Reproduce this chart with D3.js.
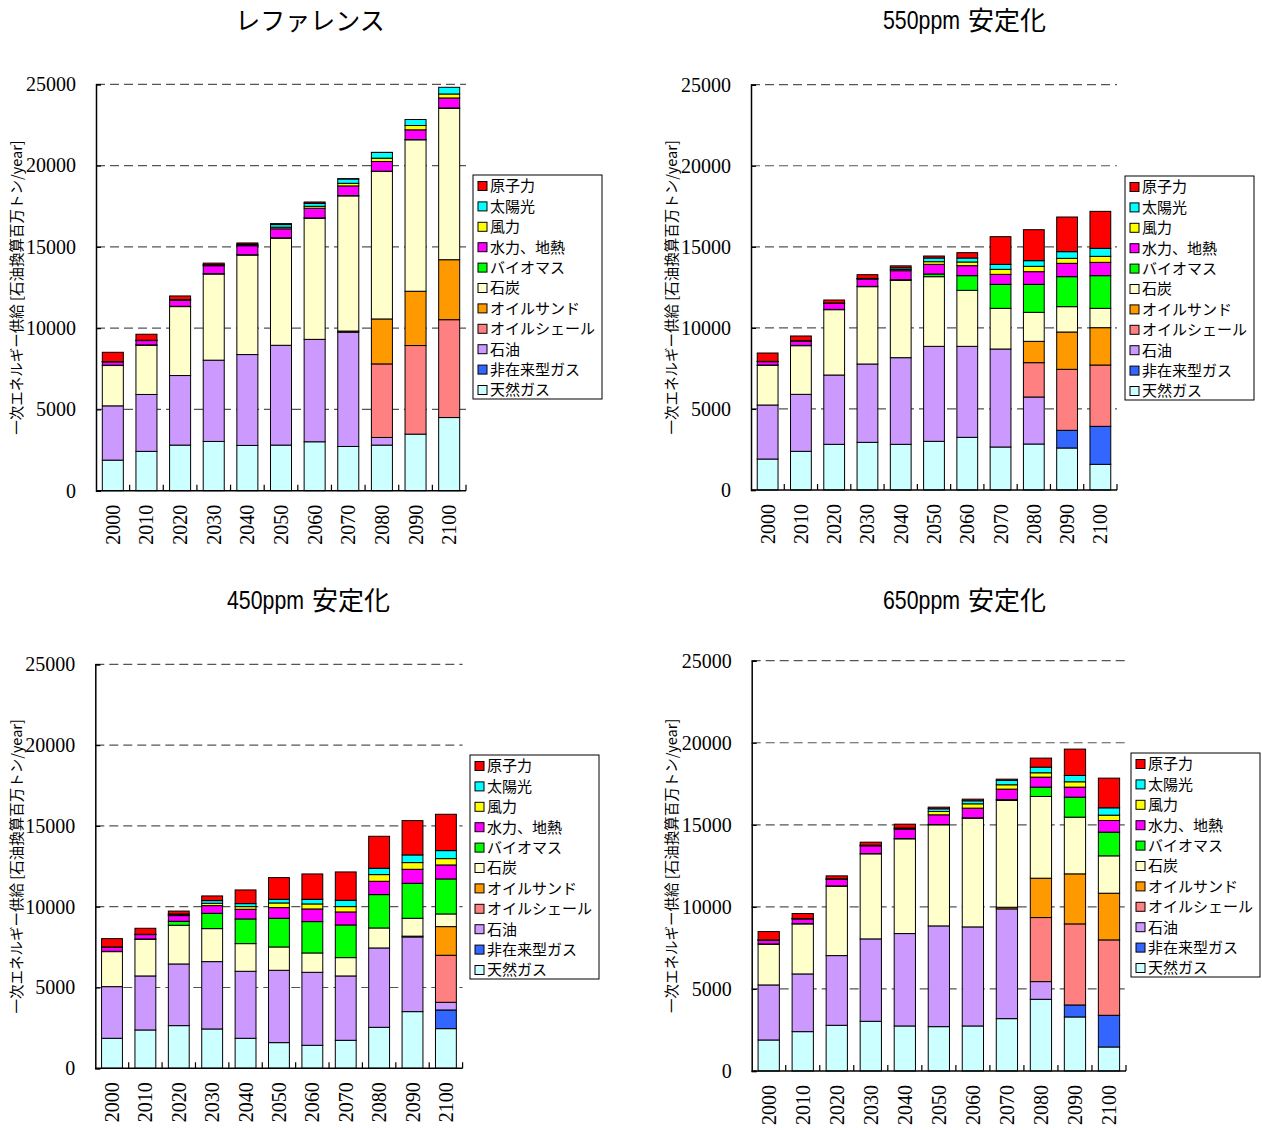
<!DOCTYPE html>
<html>
<head>
<meta charset="utf-8">
<script src="https://cdn.jsdelivr.net/npm/d3@7/dist/d3.min.js"></script>
<style>
  html, body { margin: 0; padding: 0; background: #ffffff; }
  svg { display: block; }
  .serif { font-family: "Liberation Serif", "DejaVu Serif", serif; }
  .jp { font-family: "Noto Sans CJK JP", "Noto Sans", sans-serif; }
  .latin { font-family: "Liberation Sans", Arial, sans-serif; }
</style>
</head>
<body>
<svg id="chart" width="1262" height="1130"></svg>
<script>
// Years on the category axis
const years = [2000, 2010, 2020, 2030, 2040, 2050, 2060, 2070, 2080, 2090, 2100];

// Energy sources, stacked bottom to top
const sourceNames = ["天然ガス", "非在来型ガス", "石油", "オイルシェール", "オイルサンド",
  "石炭", "バイオマス", "水力、地熱", "風力", "太陽光", "原子力"];
const sourceColors = ["#CCFFFF", "#3366FF", "#CC99FF", "#FF8080", "#FF9900",
  "#FFFFCC", "#00FF00", "#FF00FF", "#FFFF00", "#00FFFF", "#FF0000"];

const yTicks = [0, 5000, 10000, 15000, 20000, 25000];

// Primary energy supply (million tonnes of oil equivalent per year), one row per source
const referenceSupply = [
  [1880, 2420, 2805, 3030, 2785, 2805, 3010, 2720, 2805, 3480, 4500], // 天然ガス
  [0, 0, 0, 0, 0, 0, 0, 0, 0, 0, 0],                                   // 非在来型ガス
  [3340, 3500, 4280, 5000, 5590, 6140, 6300, 7030, 470, 0, 0],         // 石油
  [0, 0, 0, 0, 0, 0, 0, 0, 4525, 5450, 6020],                          // オイルシェール
  [0, 0, 0, 0, 0, 0, 0, 70, 2765, 3340, 3690],                         // オイルサンド
  [2480, 3030, 4240, 5300, 6120, 6590, 7450, 8315, 9070, 9315, 9315],  // 石炭
  [20, 20, 20, 20, 20, 20, 20, 20, 20, 20, 20],                        // バイオマス
  [205, 265, 370, 490, 555, 555, 595, 595, 595, 595, 615],             // 水力、地熱
  [10, 10, 20, 30, 30, 100, 120, 160, 205, 265, 245],                  // 風力
  [10, 10, 20, 30, 60, 160, 185, 265, 350, 370, 410],                  // 太陽光
  [570, 370, 225, 100, 80, 60, 80, 20, 10, 0, 0]                       // 原子力
];

const stab550Supply = [
  [1910, 2385, 2817, 2940, 2817, 3002, 3248, 2652, 2837, 2591, 1583],
  [0, 0, 0, 0, 0, 0, 0, 0, 0, 1090, 2344],
  [3333, 3516, 4276, 4832, 5345, 5859, 5613, 6045, 2899, 0, 0],
  [0, 0, 0, 0, 0, 0, 0, 0, 2118, 3763, 3783],
  [0, 0, 0, 0, 0, 0, 0, 0, 1316, 2302, 2303],
  [2446, 3001, 4030, 4770, 4770, 4297, 3454, 2508, 1788, 1563, 1192],
  [20, 20, 20, 20, 40, 165, 905, 1480, 1727, 1850, 2015],
  [207, 268, 371, 450, 555, 596, 617, 617, 782, 823, 822],
  [10, 10, 10, 20, 80, 165, 226, 309, 329, 308, 371],
  [10, 10, 10, 20, 100, 226, 247, 308, 349, 411, 493],
  [514, 290, 185, 230, 120, 123, 329, 1707, 1912, 2138, 2282]
];

const stab450Supply = [
  [1857, 2372, 2641, 2434, 1857, 1589, 1423, 1733, 2537, 3507, 2455],
  [0, 0, 0, 0, 0, 0, 0, 0, 0, 0, 1155],
  [3197, 3343, 3816, 4168, 4146, 4476, 4518, 3982, 4910, 4621, 475],
  [0, 0, 0, 0, 0, 0, 0, 0, 0, 0, 2909],
  [0, 0, 0, 0, 0, 0, 0, 0, 0, 50, 1774],
  [2166, 2269, 2393, 2042, 1713, 1444, 1197, 1134, 1238, 1106, 784],
  [20, 20, 248, 949, 1526, 1775, 1939, 2022, 2063, 2166, 2166],
  [249, 269, 351, 474, 599, 660, 784, 804, 825, 866, 866],
  [10, 10, 50, 145, 165, 288, 310, 331, 413, 413, 392],
  [10, 10, 50, 165, 185, 227, 288, 392, 392, 474, 495],
  [516, 372, 180, 289, 846, 1341, 1568, 1753, 1980, 2125, 2249]
];

const stab650Supply = [
  [1890, 2398, 2785, 3028, 2744, 2703, 2744, 3191, 4370, 3293, 1463],
  [0, 0, 0, 0, 0, 0, 0, 0, 0, 731, 1931],
  [3354, 3517, 4247, 5021, 5630, 6138, 6036, 6687, 1077, 0, 0],
  [0, 0, 0, 0, 0, 0, 0, 0, 3903, 4939, 4594],
  [0, 0, 0, 0, 0, 0, 0, 100, 2398, 3049, 2845],
  [2480, 3048, 4228, 5183, 5772, 6159, 6626, 6506, 4979, 3455, 2277],
  [20, 20, 20, 20, 20, 20, 20, 60, 570, 1220, 1443],
  [223, 285, 407, 467, 570, 590, 590, 631, 609, 610, 711],
  [10, 10, 10, 20, 30, 203, 264, 264, 265, 325, 325],
  [10, 10, 10, 20, 40, 163, 183, 264, 345, 386, 447],
  [509, 305, 183, 184, 234, 101, 102, 80, 549, 1606, 1809]
];

const axisTitle = "一次エネルギー供給 [石油換算百万トン/year]";

// Panel frames: plot box, title position, legend box, axis title position
const panels = [
  { title: "レファレンス", data: referenceSupply,
    left: 96, right: 466, top: 84.3, bottom: 490.7,
    titleX: 310, titleY: 30, legendX: 473, legendY: 175, axisTitleX: 17 },
  { title: "550ppm 安定化", data: stab550Supply,
    left: 751, right: 1117, top: 84.7, bottom: 490,
    titleX: 964, titleY: 30, legendX: 1125, legendY: 176, axisTitleX: 672 },
  { title: "450ppm 安定化", data: stab450Supply,
    left: 95.3, right: 462.6, top: 664.3, bottom: 1068.3,
    titleX: 308, titleY: 610, legendX: 470, legendY: 755, axisTitleX: 17 },
  { title: "650ppm 安定化", data: stab650Supply,
    left: 751.7, right: 1126, top: 660.7, bottom: 1071,
    titleX: 964, titleY: 610, legendX: 1131, legendY: 753, axisTitleX: 672 }
];

const svg = d3.select("#chart");
svg.append("rect").attr("width", 1262).attr("height", 1130).attr("fill", "#ffffff");

panels.forEach(p => {
  const g = svg.append("g");

  const x = d3.scaleBand()
    .domain(years)
    .range([p.left, p.right])
    .paddingInner(0.375)
    .paddingOuter(0.1875);

  const y = d3.scaleLinear()
    .domain([0, 25000])
    .range([p.bottom, p.top]);

  // Horizontal dashed gridlines
  g.append("g").selectAll("line")
    .data(yTicks.filter(t => t > 0))
    .join("line")
    .attr("x1", p.left).attr("x2", p.right)
    .attr("y1", d => y(d)).attr("y2", d => y(d))
    .attr("stroke", "#555555")
    .attr("stroke-width", 1.2)
    .attr("stroke-dasharray", "9,5");

  // Stacked bars
  const rows = years.map((yr, i) => {
    const r = { year: yr };
    sourceNames.forEach((s, k) => { r[s] = p.data[k][i]; });
    return r;
  });
  const stacked = d3.stack().keys(sourceNames)(rows);

  stacked.forEach((layer, k) => {
    g.append("g")
      .selectAll("rect")
      .data(layer.filter(d => d[1] - d[0] > 0))
      .join("rect")
      .attr("x", d => x(d.data.year))
      .attr("width", x.bandwidth())
      .attr("y", d => y(d[1]))
      .attr("height", d => y(d[0]) - y(d[1]))
      .attr("fill", sourceColors[k])
      .attr("stroke", "#000000")
      .attr("stroke-width", 1);
  });

  // Y axis: line, inward ticks and labels
  const yAxis = d3.axisLeft(y)
    .tickValues(yTicks)
    .tickSize(-5)
    .tickPadding(20)
    .tickFormat(d3.format("d"));
  const ya = g.append("g")
    .attr("transform", `translate(${p.left},0)`)
    .call(yAxis)
    .attr("font-family", null)
    .attr("font-size", null);
  ya.select(".domain").attr("stroke", "#000").attr("stroke-width", 1.5);
  ya.selectAll(".tick line").attr("stroke", "#000").attr("stroke-width", 1.2);
  ya.selectAll(".tick text")
    .attr("class", "serif")
    .style("font-size", "20px")
    .attr("fill", "#000");

  // X axis: baseline with inward ticks at category boundaries
  g.append("line")
    .attr("x1", p.left).attr("x2", p.right)
    .attr("y1", p.bottom).attr("y2", p.bottom)
    .attr("stroke", "#000").attr("stroke-width", 1.5);
  g.append("g").selectAll("line")
    .data(years)
    .join("line")
    .attr("x1", d => x(d) - x.paddingOuter() * x.step() + x.step())
    .attr("x2", d => x(d) - x.paddingOuter() * x.step() + x.step())
    .attr("y1", p.bottom)
    .attr("y2", p.bottom - 6)
    .attr("stroke", "#000").attr("stroke-width", 1.2);

  // Rotated year labels
  g.append("g").selectAll("text")
    .data(years)
    .join("text")
    .attr("class", "serif")
    .attr("transform", d => `translate(${x(d) + x.bandwidth() / 2},${p.bottom + 14}) rotate(-90)`)
    .attr("text-anchor", "end")
    .attr("dy", "0.35em")
    .style("font-size", "20px")
    .attr("fill", "#000")
    .text(d => d);

  // Panel title
  const m = p.title.match(/^(\S+ppm) (.*)$/);
  if (m) {
    // narrow latin part, then the kanji
    g.append("text")
      .attr("class", "latin")
      .attr("x", p.titleX - 81).attr("y", p.titleY - 1)
      .attr("textLength", 77)
      .attr("lengthAdjust", "spacingAndGlyphs")
      .style("font-size", "26px")
      .attr("fill", "#000")
      .text(m[1]);
    g.append("text")
      .attr("class", "jp")
      .attr("x", p.titleX + 4).attr("y", p.titleY)
      .style("font-size", "26px")
      .attr("fill", "#000")
      .text(m[2]);
  } else {
    g.append("text")
      .attr("class", "jp")
      .attr("x", p.titleX).attr("y", p.titleY)
      .attr("text-anchor", "middle")
      .style("font-size", "25px")
      .attr("fill", "#000")
      .text(p.title);
  }

  // Rotated axis title
  const cy = (p.top + p.bottom) / 2;
  g.append("text")
    .attr("class", "jp")
    .attr("transform", `translate(${p.axisTitleX},${cy}) rotate(-90)`)
    .attr("text-anchor", "middle")
    .attr("dy", "0.35em")
    .style("font-size", "14.5px")
    .attr("fill", "#000")
    .text(axisTitle);

  // Legend (top entry is the top of the stack)
  const lg = g.append("g").attr("transform", `translate(${p.legendX},${p.legendY})`);
  lg.append("rect")
    .attr("width", 129).attr("height", 224)
    .attr("fill", "#fff")
    .attr("stroke", "#000").attr("stroke-width", 1);
  const legendOrder = sourceNames.map((s, k) => k).reverse();
  const items = lg.selectAll("g.item")
    .data(legendOrder)
    .join("g")
    .attr("class", "item")
    .attr("transform", (k, i) => `translate(0,${11 + i * 20.4})`);
  items.append("rect")
    .attr("x", 5).attr("y", -4.5)
    .attr("width", 9).attr("height", 9)
    .attr("fill", k => sourceColors[k])
    .attr("stroke", "#000").attr("stroke-width", 1);
  items.append("text")
    .attr("class", "jp")
    .attr("x", 17).attr("dy", "0.36em")
    .style("font-size", "15px")
    .attr("fill", "#000")
    .text(k => sourceNames[k]);
});
</script>
</body>
</html>
